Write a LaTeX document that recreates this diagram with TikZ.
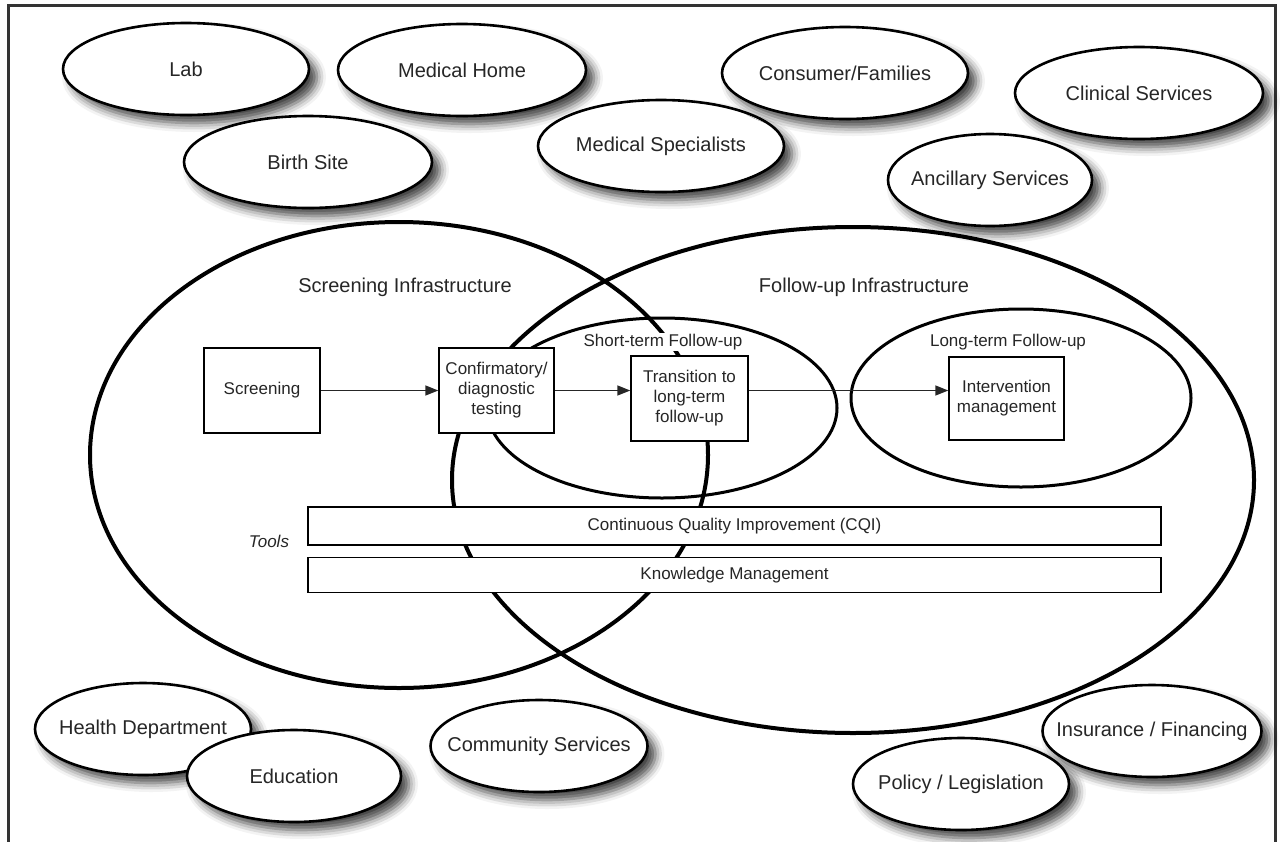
\documentclass[tikz,border=0pt]{standalone}
\usepackage{fontspec}
\setmainfont{Liberation Sans}
\usetikzlibrary{arrows.meta, positioning, shapes.geometric, shadows.blur}

\begin{document}
\begin{tikzpicture}[
    x=1pt, y=-1pt,
    partner/.style={ellipse, draw, line width=2.6pt, fill=white,
                    inner xsep=-40pt, inner ysep=0pt,
                    minimum width=#1, minimum height=92pt,
                    font=\fontsize{20}{24}\selectfont, text=black!85,
                    blur shadow={shadow xshift=8pt, shadow yshift=-8pt,
                                 shadow blur radius=9pt, shadow opacity=75}},
    partner/.default=248pt,
    infra/.style={ellipse, draw, line width=4pt, inner sep=0pt},
    phase/.style={ellipse, draw, line width=3pt, inner sep=0pt},
    stage/.style={draw, fill=white, line width=1.4pt, inner sep=0pt, align=center,
                  minimum width=116pt, minimum height=85pt,
                  font=\fontsize{17}{20}\selectfont, text=black!85},
    tool/.style={draw, fill=white, line width=1.4pt, inner sep=0pt,
                 minimum width=853pt, minimum height=#1,
                 font=\fontsize{17}{20}\selectfont, text=black!85},
    biglbl/.style={font=\fontsize{20}{24}\selectfont, text=black!85},
    smalllbl/.style={font=\fontsize{17}{20}\selectfont, text=black!85},
    >={Triangle[length=13pt, width=10pt]}
  ]
  \useasboundingbox (0,0) rectangle (1282,841);

  % Frame
  \draw[line width=3pt, black!80] (8,850) -- (8,5) -- (1275,5) -- (1275,850);

  % Partners round the system
  \node[partner=246pt] (lab)    at (186,69)  {Lab};
  \node[partner]       (medhome) at (462,70) {Medical Home};
  \node[partner]       (birth)  at (308,162) {Birth Site};
  \node[partner=246pt] (medspec) at (661,146) {Medical Specialists};
  \node[partner=246pt] (consumer) at (845,73) {Consumer/Families};
  \node[partner]       (clinical) at (1139,93) {Clinical Services};
  \node[partner=204pt] (ancillary) at (990,180) {Ancillary Services};
  \node[partner=216pt] (health) at (143,729) {Health Department};
  \node[partner=214pt] (educ)   at (294,776) {Education};
  \node[partner=217pt] (commun) at (539,746) {Community Services};
  \node[partner=219pt] (insur)  at (1152,731) {Insurance / Financing};
  \node[partner=216pt] (policy) at (961,784) {Policy / Legislation};

  % Infrastructures
  \node[infra, minimum width=618pt, minimum height=466pt] (scrinf) at (399,455) {};
  \node[infra, minimum width=802pt, minimum height=506pt] (fupinf) at (853,480) {};
  \node[biglbl] at (405,287) {Screening Infrastructure};
  \node[biglbl] at (864,287) {Follow-up Infrastructure};

  % Follow-up phases
  \node[phase, minimum width=350pt, minimum height=180pt] (short) at (662,408) {};
  \node[phase, minimum width=340pt, minimum height=178pt] (long) at (1021,398) {};
  \node[smalllbl, fill=white, inner sep=1pt] (shortlbl) at (663,342) {Short-term Follow-up};
  \node[smalllbl] (longlbl)  at (1008,342) {Long-term Follow-up};

  % Steps
  \node[stage] (scr)   at (262,390.5) {Screening};
  \node[stage, minimum width=115pt] (conf) at (496.5,390.5)
    {Confirmatory/\\diagnostic\\testing};
  \node[stage, minimum width=117pt] (trans) at (689.5,398.5)
    {Transition to\\long-term\\follow-up};
  \node[stage, minimum width=115pt, minimum height=83pt] (interv) at (1006.5,398.5)
    {Intervention\\management};

  % Arrows
  \draw[->, line width=1.4pt, black!85] (scr) -- (conf);
  \draw[->, line width=1.4pt, black!85] (conf.east) -- (conf.east -| trans.west);
  \draw[->, line width=1.4pt, black!85] (trans.east |- conf.east) -- (interv.west |- conf.east);

  % Tools
  \node[tool=38pt] (cqi) at (734.5,526) {Continuous Quality Improvement (CQI)};
  \node[tool=35pt, below=11pt of cqi] (km) {Knowledge Management};
  \node[smalllbl, font=\fontsize{17}{20}\selectfont\itshape] (tools) at (269,541) {Tools};

\end{tikzpicture}
\end{document}
